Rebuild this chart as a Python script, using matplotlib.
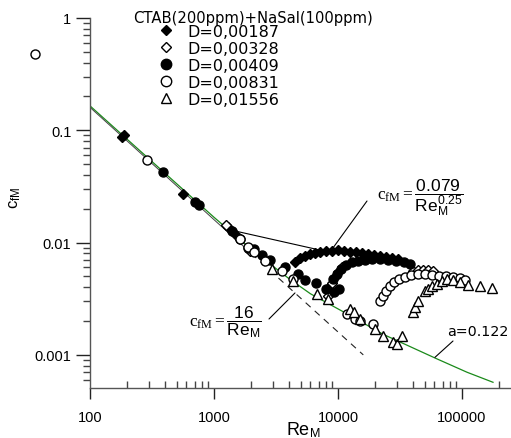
import matplotlib
matplotlib.use("Agg")
import matplotlib.pyplot as plt
from matplotlib.lines import Line2D

plt.rcParams['font.family'] = ['Liberation Sans', 'DejaVu Sans']
plt.rcParams['mathtext.fontset'] = 'custom'
plt.rcParams['mathtext.rm'] = 'Liberation Serif'
plt.rcParams['mathtext.it'] = 'Liberation Serif:italic'
plt.rcParams['mathtext.sf'] = 'Liberation Sans'

# D=0,00187 (filled diamond)
re_d1 = [181, 188, 562, 1297, 1500, 4500, 4940, 5420, 5940, 6530, 7160, 8000, 8950,
         10000, 11200, 12500, 14000, 15600, 17500, 19500, 21800, 24400, 27300, 30500]
cf_d1 = [0.0871, 0.0908, 0.0271, 0.01377, 0.0117, 0.00671, 0.00729, 0.0076, 0.00792,
         0.00807, 0.00824, 0.0084, 0.0084, 0.0086, 0.0084, 0.00824, 0.00824, 0.00807,
         0.00792, 0.00776, 0.0076, 0.00745, 0.00729, 0.00714]

# D=0,00328 (open diamond)
re_d2 = [1250, 1950, 8150, 8300, 8950, 9460, 10000, 10800, 40300, 44200, 48500, 53200, 58300]
cf_d2 = [0.01435, 0.0084, 0.00386, 0.00334, 0.00437, 0.00494, 0.00547, 0.00607,
         0.00559, 0.0057, 0.0057, 0.0057, 0.00559]

# D=0,00409 (filled circle)
re_d3 = [388, 703, 757, 1397, 1622, 1880, 2100, 2440, 2830, 3740, 4760, 5420, 6650,
         8000, 9290, 10200, 9120, 9820, 10600, 11600, 13000, 14500, 16500, 18800,
         21800, 25300, 29400, 34000, 38100]
cf_d3 = [0.0425, 0.023, 0.0216, 0.01268, 0.01076, 0.00895, 0.00877, 0.00776, 0.007,
         0.00607, 0.00525, 0.00465, 0.00437, 0.00386, 0.00363, 0.00386, 0.00474,
         0.00525, 0.00582, 0.00631, 0.00671, 0.00686, 0.007, 0.00714, 0.00714, 0.007,
         0.00686, 0.00671, 0.00645]

# D=0,00831 (open circle)
re_d4 = [36, 288, 1622, 1880, 2100, 2580, 3530, 4330, 11800, 13700, 15000, 19100,
         21800, 23100, 24400, 26300, 28300, 31000, 34700, 38800, 44200, 50300, 57200,
         65300, 74300, 84600, 96300, 106000]
cf_d4 = [0.478, 0.0544, 0.01076, 0.00914, 0.00824, 0.00686, 0.00559, 0.00474, 0.00231,
         0.00209, 0.002, 0.00188, 0.00302, 0.00334, 0.00371, 0.0041, 0.00446, 0.00474,
         0.00494, 0.00514, 0.00525, 0.00525, 0.00514, 0.00504, 0.00504, 0.00494,
         0.00484, 0.00465]

# D=0,01556 (open triangle)
re_d5 = [2940, 4330, 6780, 8300, 12500, 13500, 15000, 19900, 23100, 27800, 29900, 32800,
         40300, 41800, 44200, 50300, 53200, 57200, 62800, 69000, 75700, 84600, 96300,
         112000, 140000, 175000]
cf_d5 = [0.00582, 0.00455, 0.00348, 0.00315, 0.00256, 0.00241, 0.00209, 0.0017, 0.00147,
         0.0013, 0.00125, 0.00147, 0.00241, 0.00267, 0.00302, 0.00371, 0.00386, 0.0041,
         0.00428, 0.00455, 0.00474, 0.00465, 0.00446, 0.00419, 0.0041, 0.00394]

# reference lines
re_lam = [100, 2000]
cf_lam = [0.16, 0.008]
re_lam_dash = [2000, 16000]
cf_lam_dash = [0.008, 0.001]
re_blas = [1300, 9000]
cf_blas = [0.0131, 0.0081]
re_green = [100, 1000, 2000, 4000, 6000, 12000, 23000, 63000, 110000, 178000]
cf_green = [0.165, 0.0168, 0.0087, 0.0048, 0.0035, 0.0023, 0.00153, 0.00092, 0.0007, 0.00057]

labels = ["D=0,00187", "D=0,00328", "D=0,00409", "D=0,00831", "D=0,01556"]

W, H = 511, 439
fig = plt.figure(figsize=(W / 100, H / 100), dpi=100)
ax = fig.add_axes([90 / W, 1 - 389 / H, 420 / W, 370 / H])
ax.set_xscale('log')
ax.set_yscale('log')
ax.set_xlim(100, 244000)
ax.set_ylim(0.000507, 1)

ax.plot(re_green, cf_green, color='#1a8a1a', lw=0.9, zorder=2)
ax.plot(re_lam, cf_lam, color='#444444', lw=0.7, zorder=2)
ax.plot(re_lam_dash, cf_lam_dash, color='#222222', lw=0.8, ls=(0, (6, 5)), zorder=2)
ax.plot(re_blas, cf_blas, color='black', lw=0.8, zorder=2)

mk = dict(ls='none', mew=1.0, mec='black', zorder=3)
ax.plot(re_d1, cf_d1, marker='D', ms=5, mfc='black', **mk)
ax.plot(re_d2, cf_d2, marker='D', ms=5, mfc='white', **mk)
ax.plot(re_d3, cf_d3, marker='o', ms=6.5, mfc='black', **mk)
ax.plot(re_d4, cf_d4, marker='o', ms=6.5, mfc='white', clip_on=False, **mk)
ax.plot(re_d5, cf_d5, marker='^', ms=6.5, mfc='white', **mk)

ax.spines['top'].set_visible(False)
ax.spines['right'].set_visible(False)
for s in ['left', 'bottom']:
    ax.spines[s].set_color('#555555')
    ax.spines[s].set_linewidth(1.0)

ax.set_xticks([100, 1000, 10000, 100000], ["100", "1000", "10000", "100000"])
ax.set_yticks([0.001, 0.01, 0.1, 1], ["0.001", "0.01", "0.1", "1"])
ax.tick_params(axis='both', which='major', labelsize=10.5, color='#222222', width=1)
ax.tick_params(axis='y', which='major', direction='out', length=10)
ax.tick_params(axis='y', which='minor', direction='out', length=5, width=1, color='#444444')
ax.tick_params(axis='x', which='major', direction='out', length=8, pad=8)
ax.tick_params(axis='x', which='minor', direction='in', length=5, width=1, color='#444444')

# legend
fig.text(133 / W, 1 - 18 / H, "CTAB(200ppm)+NaSal(100ppm)", fontsize=10.6,
         family='DejaVu Sans', va='center')
handles = [
    Line2D([], [], marker='D', ms=5.5, mfc='black', mec='black', ls='none'),
    Line2D([], [], marker='D', ms=5.5, mfc='white', mec='black', ls='none'),
    Line2D([], [], marker='o', ms=7.5, mfc='black', mec='black', ls='none'),
    Line2D([], [], marker='o', ms=7.5, mfc='white', mec='black', ls='none'),
    Line2D([], [], marker='^', ms=7, mfc='white', mec='black', ls='none'),
]
fig.legend(handles, labels, loc='upper left', bbox_to_anchor=(159 / W, 1 - 25 / H),
           frameon=False, prop={'family': 'DejaVu Sans', 'size': 11.5}, borderpad=0,
           borderaxespad=0, handlelength=0.9, handletextpad=0.85, labelspacing=0.12)

# equations and leaders
fig.text(377 / W, 1 - 198 / H,
         r'$\mathrm{c}_{\mathrm{fM}} = \dfrac{\mathsf{0.079}}{\mathsf{Re}_{\mathsf{M}}^{\mathsf{0.25}}}$',
         fontsize=12.5, va='center')
fig.text(189 / W, 1 - 322 / H,
         r'$\mathrm{c}_{\mathrm{fM}} = \dfrac{\mathsf{16}}{\mathsf{Re}_{\mathsf{M}}}$',
         fontsize=12.5, va='center')
fig.text(447 / W, 1 - 332 / H, "a=0.122", fontsize=10.3, family='DejaVu Sans', va='center')

line = dict(arrowstyle='-', lw=0.8, color='black', shrinkA=0, shrinkB=0)
ax.annotate('', xy=(8600, 0.0082), xytext=(367 / W, 1 - 202 / H),
            textcoords='figure fraction', arrowprops=line)
ax.annotate('', xy=(4500, 0.00356), xytext=(269 / W, 1 - 320 / H),
            textcoords='figure fraction', arrowprops=line)
ax.annotate('', xy=(60500, 0.00095), xytext=(453 / W, 1 - 342 / H),
            textcoords='figure fraction', arrowprops=line)

# axis titles
fig.text(303 / W, 1 - 430 / H, r'Re$_{\mathsf{M}}$', fontsize=13, ha='center', va='center')
fig.text(15 / W, 1 - 198 / H, r'c$_{\mathsf{fM}}$', fontsize=12, ha='center', va='center',
         rotation=90)

fig.savefig('out.png', dpi=100)
